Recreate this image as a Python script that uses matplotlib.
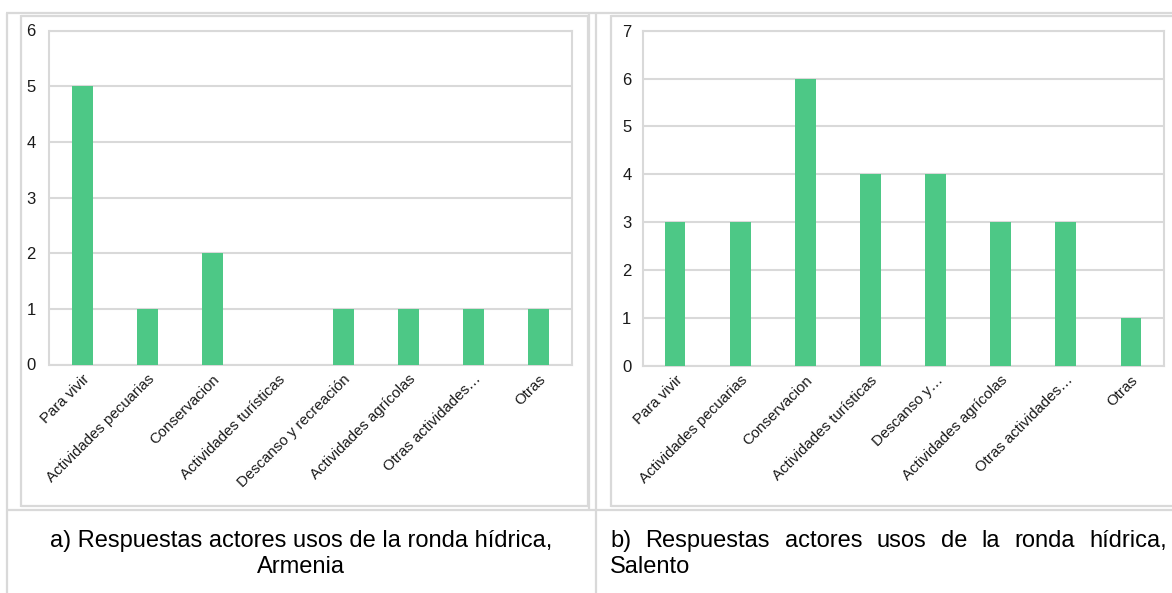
import matplotlib
matplotlib.use("Agg")
import matplotlib.pyplot as plt
from matplotlib.lines import Line2D

plt.rcParams['font.family'] = ['Liberation Sans', 'DejaVu Sans']

# datos
cats_a = ["Para vivir", "Actividades pecuarias", "Conservacion", "Actividades turísticas",
          "Descanso y recreación", "Actividades agrícolas", "Otras actividades…", "Otras"]
vals_a = [5, 1, 2, 0, 1, 1, 1, 1]

cats_b = ["Para vivir", "Actividades pecuarias", "Conservacion", "Actividades turísticas",
          "Descanso y…", "Actividades agrícolas", "Otras actividades…", "Otras"]
vals_b = [3, 3, 6, 4, 4, 3, 3, 1]

caption_a = ["a) Respuestas actores usos de la ronda hídrica,", "Armenia"]
caption_b = ["b) Respuestas actores usos de la ronda hídrica,", "Salento"]

W, H = 1172, 593
GREEN = "#4dc886"
GRAY = "#d9d9d9"

fig = plt.figure(figsize=(W / 100, H / 100), dpi=100)


def px_axes(x0, y0, x1, y1):
    return fig.add_axes([x0 / W, 1 - y1 / H, (x1 - x0) / W, (y1 - y0) / H])


def line(xs, ys, lw=1.6):
    fig.add_artist(Line2D([x / W for x in xs], [1 - y / H for y in ys],
                          color=GRAY, lw=lw, solid_capstyle='butt'))


# bordes de la tabla
line([6, 1172], [13, 13])
line([7, 7], [13, 593])
line([589, 589], [13, 509])
line([595.5, 595.5], [13, 593])
line([6, 1172], [509.5, 509.5])
# marcos de los graficos
line([20.5, 587.5], [15.5, 15.5]); line([20.5, 20.5], [15, 506.5])
line([587.5, 587.5], [15, 506.5]); line([20.5, 587.5], [506, 506])
line([610.5, 1172], [15.5, 15.5]); line([610.5, 610.5], [15, 506.5])
line([610.5, 1172], [506, 506])


def bar_chart(ax, cats, vals, ymax, ypad):
    x = range(len(cats))
    ax.bar(x, vals, width=0.32, color=GREEN, zorder=3)
    ax.set_xlim(-0.5, len(cats) - 0.5)
    ax.set_ylim(0, ymax)
    ax.set_yticks(range(ymax + 1))
    ax.grid(axis='y', color=GRAY, lw=1.5, zorder=0)
    for s in ax.spines.values():
        s.set_color(GRAY)
        s.set_linewidth(1.5)
    ax.tick_params(length=0, colors="#1a1a1a")
    ax.tick_params(axis='y', pad=ypad, labelsize=12)
    ax.set_xticks(list(x))
    ax.set_xticklabels(cats, rotation=45, ha='right', va='top',
                       rotation_mode='anchor', fontsize=10.8)
    ax.tick_params(axis='x', pad=5.5)


ax1 = px_axes(49.5, 30.5, 571.5, 364.5)
bar_chart(ax1, cats_a, vals_a, 6, 10)
ax2 = px_axes(642.5, 30.7, 1163.5, 365.5)
bar_chart(ax2, cats_b, vals_b, 7, 8)

# leyendas
cfont = 17
fig.text(301 / W, 1 - 541 / H, caption_a[0], ha='center', va='center', fontsize=cfont)
fig.text(301 / W, 1 - 567 / H, caption_a[1], ha='center', va='center', fontsize=cfont)

# texto justificado del panel b
fig.canvas.draw()
r = fig.canvas.get_renderer()
words = caption_b[0].split(" ")
objs = [fig.text(0, 1 - 541 / H, w, ha='left', va='center', fontsize=cfont) for w in words]
widths = [o.get_window_extent(renderer=r).width for o in objs]
left, right = 610, 1167
gap = (right - left - sum(widths)) / (len(words) - 1)
xpos = left
for o, w in zip(objs, widths):
    o.set_x(xpos / W)
    xpos += w + gap
fig.text(left / W, 1 - 567 / H, caption_b[1], ha='left', va='center', fontsize=cfont)

fig.savefig("out.png", dpi=100)
